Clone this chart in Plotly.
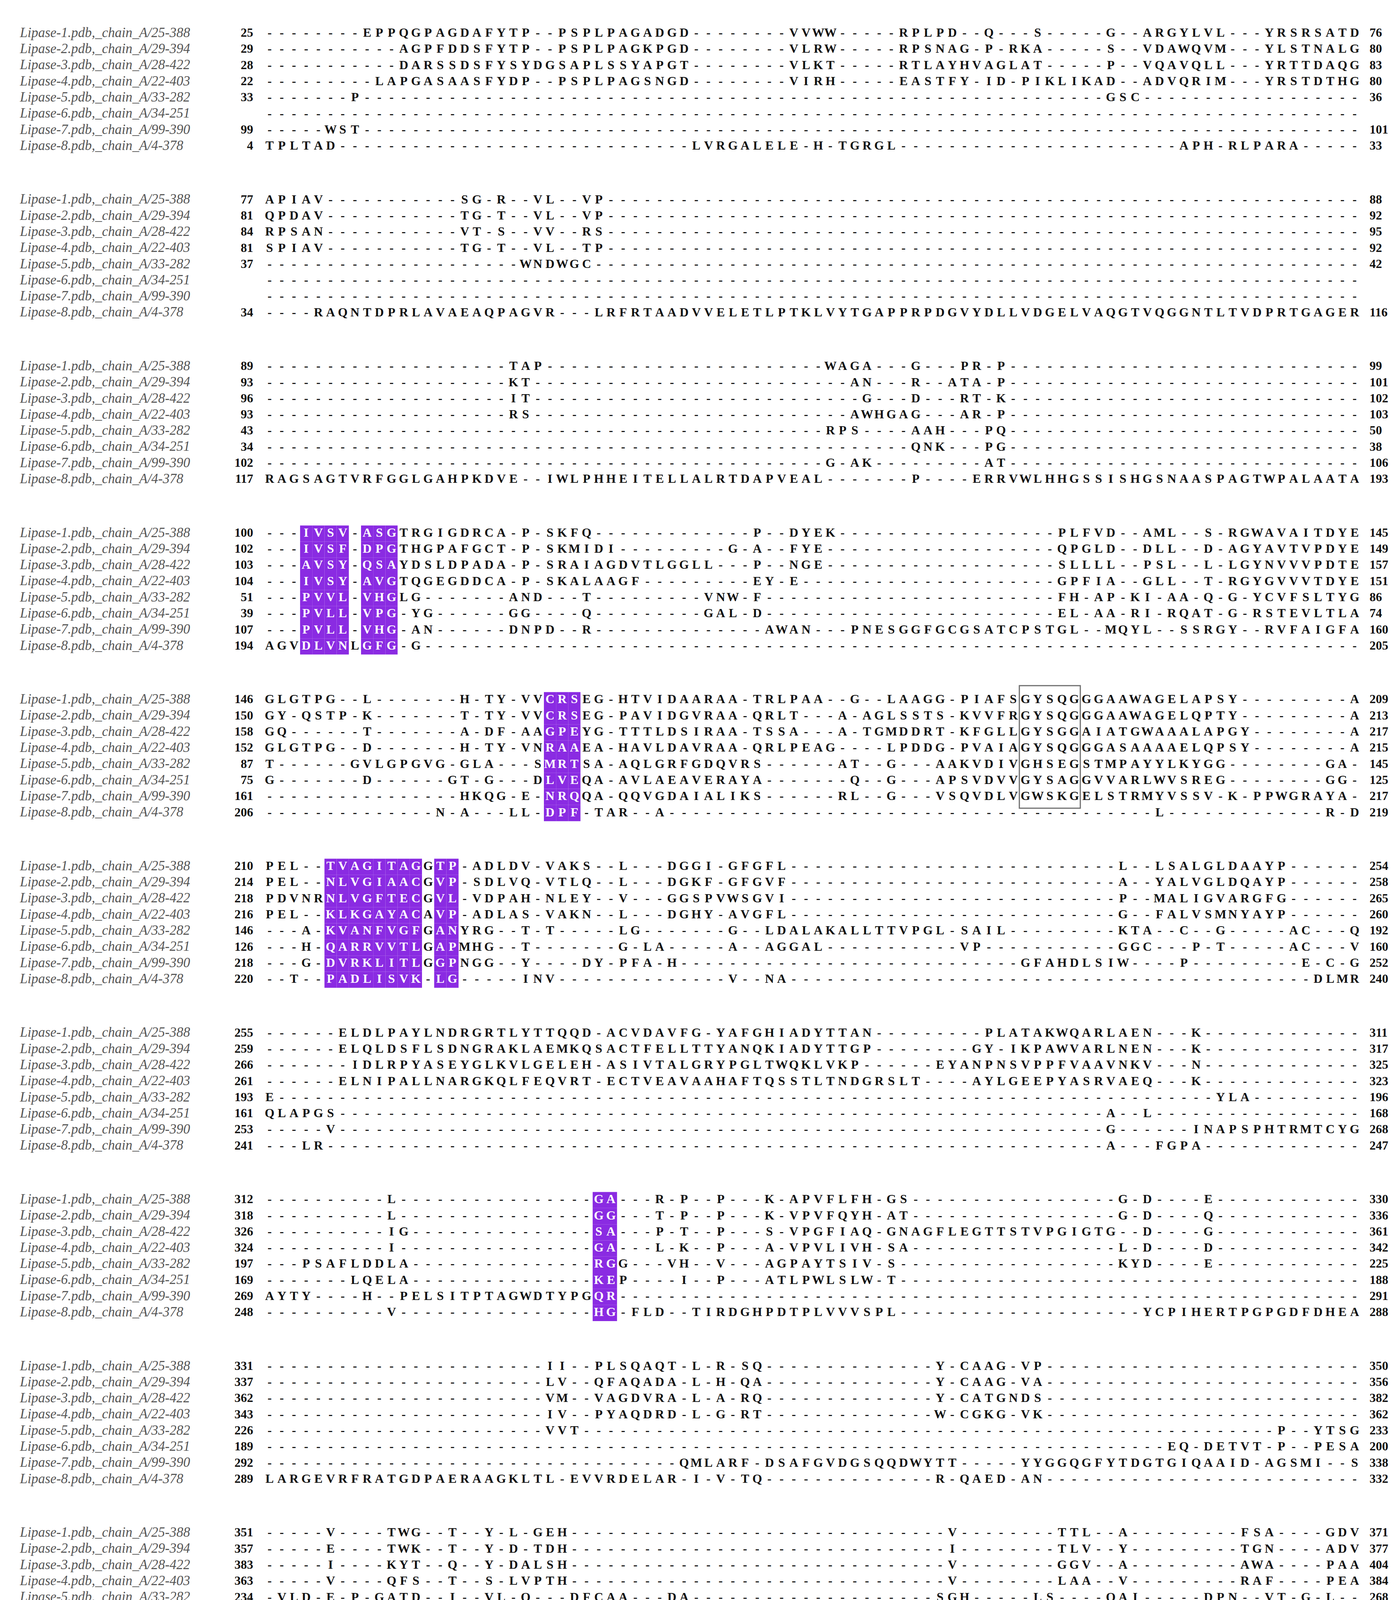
import plotly.graph_objects as go

NAMES = ["Lipase-1.pdb,_chain_A/25-388", "Lipase-2.pdb,_chain_A/29-394",
         "Lipase-3.pdb,_chain_A/28-422", "Lipase-4.pdb,_chain_A/22-403",
         "Lipase-5.pdb,_chain_A/33-282", "Lipase-6.pdb,_chain_A/34-251",
         "Lipase-7.pdb,_chain_A/99-390", "Lipase-8.pdb,_chain_A/4-378"]

# aligned segments per row: "column:RESIDUES", gaps are filled with '-'
B1 = ["8:EPPQGPAGDAFYTP 24:PSPLPAGADGD 43:VVWW 52:RPLPD 59:Q 63:S 69:G 72:ARGYLVL 82:YRSRSATD",
      "11:AGPFDDSFYTP 24:PSPLPAGKPGD 43:VLRW 52:RPSNAG 59:P 61:RKA 69:S 72:VDAWQVM 82:YLSTNALG",
      "11:DARSSDSFYSYDGSAPLSSYAPGT 43:VLKT 52:RTLAYHVAGLAT 69:P 72:VQAVQLL 82:YRTTDAQG",
      "9:LAPGASAASFYDP 24:PSPLPAGSNGD 43:VIRH 52:EASTFY 59:ID 62:PIKLIKAD 72:ADVQRIM 82:YRSTDTHG",
      "7:P 69:GSC", "", "5:WST",
      "0:TPLTAD 35:LVRGALELE 45:H 47:TGRGL 75:APH 79:RLPARA"]
B2 = ["0:APIAV 16:SG 19:R 22:VL 26:VP", "0:QPDAV 16:TG 19:T 22:VL 26:VP",
      "0:RPSAN 16:VT 19:S 22:VV 26:RS", "0:SPIAV 16:TG 19:T 22:VL 26:TP",
      "21:WNDWGC", "", "",
      "4:RAQNTDPRLAVAEAQPAGVR 27:LRFRTAADVVELETLPTKLVYTGAPPRPDGVYDLLVDGELVAQGTVQGGNTLTVDPRTGAGER"]
B3 = ["20:TAP 46:WAGA 53:G 57:PR 60:P", "20:KT 48:AN 53:R 56:ATA 60:P",
      "20:IT 49:G 53:D 57:RT 60:K", "20:RS 48:AWHGAG 57:AR 60:P",
      "46:RPS 53:AAH 59:PQ", "53:QNK 59:PG", "46:G 48:AK 59:AT",
      "0:RAGSAGTVRFGGLGAHPKDVE 23:IWLPHHEITELLALRTDAPVEAL 53:P 58:ERRVWLHHGSSISHGSNAASPAGTWPALAATA"]
B4 = ["3:IVSV 8:ASGTRGIGDRCA 21:P 23:SKFQ 40:P 43:DYEK 65:PLFVD 72:AML 77:S 79:RGWAVAITDYE",
      "3:IVSF 8:DPGTHGPAFGCT 21:P 23:SKMIDI 38:G 40:A 43:FYE 65:QPGLD 72:DLL 77:D 79:AGYAVTVPDYE",
      "3:AVSY 8:QSAYDSLDPADA 21:P 23:SRAIAGDVTLGGLL 40:P 43:NGE 65:SLLLL 72:PSL 77:L 79:LGYNVVVPDTE",
      "3:IVSY 8:AVGTQGEGDDCA 21:P 23:SKALAAGF 40:EY 43:E 65:GPFIA 72:GLL 77:T 79:RGYGVVVTDYE",
      "3:PVVL 8:VHGLG 20:AND 26:T 36:VNW 40:F 65:FH 68:AP 71:KI 74:AA 77:Q 79:G 81:YCVFSLTYG",
      "3:PVLL 8:VPG 12:YG 20:GG 26:Q 36:GAL 40:D 65:EL 68:AA 71:RI 74:RQAT 79:G 81:RSTEVLTLA",
      "3:PVLL 8:VHG 12:AN 20:DNPD 26:R 41:AWAN 48:PNESGGFGCGSATCPSTGL 69:MQYL 75:SSRGY 82:RVFAIGFA",
      "0:AGVDLVNLGFG 12:G"]
B5 = ["0:GLGTPG 8:L 16:H 18:TY 21:VVCRSEG 29:HTVIDAARAA 40:TRLPAA 48:G 51:LAAGG 57:PIAFSGYSQGGGAAWAGELAPSY 89:A",
      "0:GY 3:QSTP 8:K 16:T 18:TY 21:VVCRSEG 29:PAVIDGVRAA 40:QRLT 47:A 49:AGLSSTS 57:KVVFRGYSQGGGAAWAGELQPTY 89:A",
      "0:GQ 8:T 16:A 18:DF 21:AAGPEYG 29:TTTLDSIRAA 40:TSSA 47:A 49:TGMDDRT 57:KFGLLGYSGGAIATGWAAALAPGY 89:A",
      "0:GLGTPG 8:D 16:H 18:TY 21:VNRAAEA 29:HAVLDAVRAA 40:QRLPEAG 51:LPDDG 57:PVAIAGYSQGGGASAAAAELQPSY 89:A",
      "0:T 7:GVLGPGVG 16:GLA 22:SMRTSA 29:AQLGRFGDQVRS 47:AT 51:G 55:AAKVDIVGHSEGSTMPAYYLKYGG 87:GA",
      "0:G 8:D 15:GT 18:G 22:DLVEQA 29:AVLAEAVERAYA 48:Q 51:G 55:APSVDVVGYSAGGVVARLWVSREG 87:GG",
      "16:HKQG 21:E 23:NRQQA 29:QQVGDAIALIKS 47:RL 51:G 55:VSQVDLVGWSKGELSTRMYVSSV 79:K 81:PPWGRAYA",
      "14:N 16:A 20:LL 23:DPF 27:TAR 32:A 73:L 87:R 89:D"]
B6 = ["0:PEL 5:TVAGITAGGTP 17:ADLDV 23:VAKS 29:L 33:DGGI 38:GFGFL 70:L 73:LSALGLDAAYP",
      "0:PEL 5:NLVGIAACGVP 17:SDLVQ 23:VTLQ 29:L 33:DGKF 38:GFGVF 70:A 73:YALVGLDQAYP",
      "0:PDVNRNLVGFTECGVL 17:VDPAH 23:NLEY 29:V 33:GGSPVWSGVI 70:P 73:MALIGVARGFG",
      "0:PEL 5:KLKGAYACAVP 17:ADLAS 23:VAKN 29:L 33:DGHY 38:AVGFL 70:G 73:FALVSMNYAYP",
      "3:A 5:KVANFVGFGANYRG 21:T 23:T 29:LG 38:G 41:LDALAKALLTTVPGL 57:SAIL 70:KTA 75:C 78:G 84:AC 89:Q",
      "3:H 5:QARRVVTLGAPMHG 21:T 29:G 31:LA 38:A 41:AGGAL 57:VP 70:GGC 76:P 78:T 84:AC 89:V",
      "3:G 5:DVRKLITLGGPNGG 21:Y 26:DY 29:PFA 33:H 62:GFAHDLSIW 75:P 85:E 87:C 89:G",
      "2:T 5:PADLISVK 14:LG 21:INV 38:V 41:NA 86:DLMR"]
B7 = ["6:ELDLPAYLNDRGRTLYTTQQD 28:ACVDAVFG 37:YAFGHIADYTTAN 59:PLATAKWQARLAEN 76:K",
      "6:ELQLDSFLSDNGRAKLAEMKQSACTFELLTTYANQKIADYTTGP 58:GY 61:IKPAWVARLNEN 76:K",
      "7:IDLRPYASEYGLKVLGELEH 28:ASIVTALGRYPGLTWQKLVKP 55:EYANPNSVPPFVAAVNKV 76:N",
      "6:ELNIPALLNARGKQLFEQVRT 28:ECTVEAVAAHAFTQSSTLTNDGRSLT 58:AYLGEEPYASRVAEQ 76:K",
      "0:E 78:YLA", "0:QLAPGS 69:A 72:L", "5:V 69:G 76:INAPSPHTRMTCYG", "3:LR 69:A 73:FGPA"]
B8 = ["10:L 27:GA 32:R 34:P 37:P 41:K 43:APVFLFH 51:GS 70:G 72:D 77:E",
      "10:L 27:GG 32:T 34:P 37:P 41:K 43:VPVFQYH 51:AT 70:G 72:D 77:Q",
      "10:IG 27:SA 32:P 34:T 37:P 41:S 43:VPGFIAQ 51:GNAGFLEGTTSTVPGIGTG 72:D 77:G",
      "10:I 27:GA 32:L 34:K 37:P 41:A 43:VPVLIVH 51:SA 70:L 72:D 77:D",
      "3:PSAFLDDLA 27:RGG 33:VH 37:V 41:AGPAYTSIV 51:S 70:KYD 77:E",
      "7:LQELA 27:KEP 34:I 37:P 41:ATLPWLSLW 51:T",
      "0:AYTY 8:H 11:PELSITPTAGWDTYPGQR",
      "10:V 27:HG 30:FLD 35:TIRDGHPDTPLVVVSPL 72:YCPIHERTPGPGDFDHEA"]
B9 = ["23:II 27:PLSQAQT 35:L 37:R 39:SQ 55:Y 57:CAAG 62:VP",
      "23:LV 27:QFAQADA 35:L 37:H 39:QA 55:Y 57:CAAG 62:VA",
      "23:VM 27:VAGDVRA 35:L 37:A 39:RQ 55:Y 57:CATGNDS",
      "23:IV 27:PYAQDRD 35:L 37:G 39:RT 55:W 57:CGKG 62:VK",
      "23:VVT 83:P 86:YTSG", "74:EQ 77:DETVT 83:P 86:PESA",
      "34:QMLARF 41:DSAFGVDGSQQDWYTT 62:YYGGQGFYTDGTGIQAAID 82:AGSMI 89:S",
      "0:LARGEVRFRATGDPAERAAGKLTL 25:EVVRDELAR 35:I 37:V 39:TQ 55:R 57:QAED 62:AN"]
B10 = ["5:V 10:TWG 15:T 18:Y 20:L 22:GEH 56:V 65:TTL 70:A 80:FSA 87:GDV",
       "5:E 10:TWK 15:T 18:Y 20:D 22:TDH 56:I 65:TLV 70:Y 80:TGN 87:ADV",
       "5:I 10:KYT 15:Q 18:Y 20:DALSH 56:V 65:GGV 70:A 80:AWA 87:PAA",
       "5:V 10:QFS 15:T 18:S 20:LVPTH 56:V 65:LAA 70:V 80:RAF 87:PEA",
       "1:VLD 5:E 7:P 9:GATD 15:I 18:VL 21:Q 25:DFCAA 33:DA 55:SGH 63:LS 69:QAI 77:DPN 82:VT 85:G 87:L",
       "1:RVD 5:G 10:AVN 15:V 18:AL 21:Q 25:QVCPG 33:NQ 55:AAH 63:GD 69:LPT 77:DPA 82:VT 85:E 87:I",
       "0:TL 3:Q 5:SAGTP 11:A 13:SVS 18:VY 21:L 33:LAGGSPSIVGVFNENRGPSDGIV 64:F 68:VASAL 77:DS 83:TGI",
       "4:LR 11:YL 15:DGLAL 30:YGEADF 53:AEL 58:PLPDALH 70:P 74:CPAAHRR 82:IG 85:ARFA"]
B11 = ["0:V 2:G 5:YLAD 17:RFAGKP 26:ARSNC", "0:L 2:A 5:FVKD 17:RIEGKP 26:ASSNC",
       "0:M 2:G 5:WLAD 17:RFAGKP 26:APSSCG", "0:F 2:A 5:WLEG 17:RFAGLP 26:ALSNCG 35:L",
       "0:ILH 5:ALDASYT 13:PACT", "0:VLQ 5:ALGTTPLEAPTD 32:CLS", "0:GHL", "3:GLV 23:LDFK"]

BLOCKS = [B1, B2, B3, B4, B5, B6, B7, B8, B9, B10, B11]
WIDTHS = [90] * 10 + [36]
STARTS = [[25, 29, 28, 22, 33, None, 99, 4], [77, 81, 84, 81, 37, None, None, 34],
          [89, 93, 96, 93, 43, 34, 102, 117], [100, 102, 103, 104, 51, 39, 107, 194],
          [146, 150, 158, 152, 87, 75, 161, 206], [210, 214, 218, 216, 146, 126, 218, 220],
          [255, 259, 266, 261, 193, 161, 253, 241], [312, 318, 326, 324, 197, 169, 269, 248],
          [331, 337, 362, 343, 226, 189, 292, 289], [351, 357, 383, 363, 234, 201, 339, 333],
          [372, 378, 405, 385, 269, 234, 388, 372]]
ENDS = [[76, 80, 83, 80, 36, None, 101, 33], [88, 92, 95, 92, 42, None, None, 116],
        [99, 101, 102, 103, 50, 38, 106, 193], [145, 149, 157, 151, 86, 74, 160, 205],
        [209, 213, 217, 215, 145, 125, 217, 219], [254, 258, 265, 260, 192, 160, 252, 240],
        [311, 317, 325, 323, 196, 168, 268, 247], [330, 336, 361, 342, 225, 188, 291, 288],
        [350, 356, 382, 362, 233, 200, 338, 332], [371, 377, 404, 384, 268, 233, 387, 371],
        [388, 394, 422, 403, 282, 251, 390, 378]]
# conserved columns (block index, first column, last column)
HIGHLIGHTS = [(3, 3, 6), (3, 8, 10), (4, 23, 25), (5, 5, 12), (5, 14, 15), (7, 27, 28)]
# boxed motif (block index, first col, last col, first row, last row)
BOXES = [(4, 62, 66, 0, 6)]

# layout constants (page pixels)
X0, DX = 682, 31.2
Y0, DY, DB = 78, 41.3, 426.6
PURPLE = "#8a2be2"


def build(row, width):
    s = ["-"] * width
    for tok in row.split():
        c, seq = tok.split(":")
        c = int(c)
        for i, ch in enumerate(seq):
            if c + i < width:
                s[c + i] = ch
    return "".join(s)


def ypos(b, r):
    return Y0 + b * DB + r * DY


hl = {(b, c) for b, a, e in HIGHLIGHTS for c in range(a, e + 1)}
bx, by, bt, wx, wy, wt = [], [], [], [], [], []
nx, ny, nt, sx, sy, st, ex, ey, et = [], [], [], [], [], [], [], [], []
for b, blk in enumerate(BLOCKS):
    for r, row in enumerate(blk):
        seq = build(row, WIDTHS[b])
        y = ypos(b, r)
        for c, ch in enumerate(seq):
            x = X0 + c * DX
            if (b, c) in hl and ch != "-":
                wx.append(x); wy.append(y); wt.append(ch)
            else:
                bx.append(x); by.append(y); bt.append(ch)
        nx.append(43); ny.append(y); nt.append(NAMES[r])
        if STARTS[b][r] is not None:
            sx.append(640); sy.append(y); st.append(str(STARTS[b][r]))
            ex.append(3497); ey.append(y); et.append(str(ENDS[b][r]))

shapes = []
for b, a, e in HIGHLIGHTS:
    for r in range(8):
        seq = build(BLOCKS[b][r], WIDTHS[b])
        for c in range(a, e + 1):
            if seq[c] != "-":
                shapes.append(dict(type="rect", xref="x", yref="y", line_width=0,
                                   fillcolor=PURPLE, layer="below",
                                   x0=X0 + c * DX - DX / 2, x1=X0 + c * DX + DX / 2,
                                   y0=ypos(b, r) - DY / 2, y1=ypos(b, r) + DY / 2))
for b, a, e, r0, r1 in BOXES:
    shapes.append(dict(type="rect", xref="x", yref="y", line=dict(color="#707070", width=3),
                       x0=X0 + a * DX - DX / 2, x1=X0 + e * DX + DX / 2,
                       y0=ypos(b, r0) - DY * 0.9, y1=ypos(b, r1) + DY * 0.7))

SEQFONT = dict(family="Liberation Serif", size=32, weight="bold")
fig = go.Figure()
fig.add_trace(go.Scatter(x=bx, y=by, text=bt, mode="text", textposition="middle center",
                         textfont=dict(color="#111111", **SEQFONT), hoverinfo="skip"))
fig.add_trace(go.Scatter(x=wx, y=wy, text=wt, mode="text", textposition="middle center",
                         textfont=dict(color="white", **SEQFONT), hoverinfo="skip"))
fig.add_trace(go.Scatter(x=nx, y=ny, text=nt, mode="text", textposition="middle right",
                         textfont=dict(family="Liberation Serif", size=35, color="#555555",
                                       style="italic"), hoverinfo="skip"))
fig.add_trace(go.Scatter(x=sx, y=sy, text=st, mode="text", textposition="middle left",
                         textfont=dict(color="#111111", **SEQFONT), hoverinfo="skip"))
fig.add_trace(go.Scatter(x=ex, y=ey, text=et, mode="text", textposition="middle right",
                         textfont=dict(color="#111111", **SEQFONT), hoverinfo="skip"))
fig.update_layout(width=3583, height=4703, margin=dict(l=0, r=0, t=0, b=0),
                  plot_bgcolor="white", paper_bgcolor="white", showlegend=False,
                  shapes=shapes,
                  xaxis=dict(range=[0, 3583], visible=False, fixedrange=True),
                  yaxis=dict(range=[4703, 0], visible=False, fixedrange=True))
fig.update_traces(cliponaxis=False)
fig.write_html("out.html")
